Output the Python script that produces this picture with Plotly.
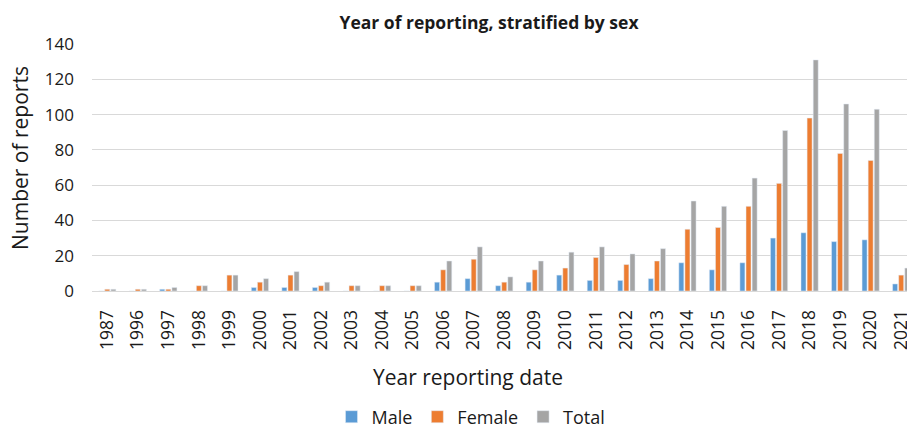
import plotly.graph_objects as go

years = ["1987", "1996", "1997", "1998", "1999", "2000", "2001", "2002", "2003",
         "2004", "2005", "2006", "2007", "2008", "2009", "2010", "2011", "2012",
         "2013", "2014", "2015", "2016", "2017", "2018", "2019", "2020", "2021"]
male = [0, 0, 1, 0, 0, 2, 2, 2, 0, 0, 0, 5, 7, 3, 5, 9, 6, 6, 7, 16, 12, 16, 30, 33, 28, 29, 4]
female = [1, 1, 1, 3, 9, 5, 9, 3, 3, 3, 3, 12, 18, 5, 12, 13, 19, 15, 17, 35, 36, 48, 61, 98, 78, 74, 9]
total = [1, 1, 2, 3, 9, 7, 11, 5, 3, 3, 3, 17, 25, 8, 17, 22, 25, 21, 24, 51, 48, 64, 91, 131, 106, 103, 13]
y_ticks = [0, 20, 40, 60, 80, 100, 120, 140]

FONT = "Open Sans"
TXT = "#1a1a1a"

fig = go.Figure()
fig.add_trace(go.Bar(name="Male", x=years, y=male, marker_color="#5B9BD5"))
fig.add_trace(go.Bar(name="Female", x=years, y=female, marker_color="#ED7D31"))
fig.add_trace(go.Bar(name="Total", x=years, y=total, marker_color="#A5A5A5"))

L, R, T, B = 92, 0, 44, 139
W, H = 907, 430
pw = W - L - R
ph = H - T - B

def px_x(x):
    return (x - L) / pw

def px_y(y):
    return (H - B - y) / ph

fig.update_layout(
    width=W, height=H,
    margin=dict(l=L, r=R, t=T, b=B, autoexpand=False),
    paper_bgcolor="white", plot_bgcolor="white",
    barmode="group", bargap=0.4, bargroupgap=0.18,
    font=dict(family=FONT, color=TXT),
    title=dict(text="<b>Year of reporting, stratified by sex</b>",
               font=dict(family=FONT, size=17.5, color=TXT),
               x=px_x(489), xref="paper", xanchor="center",
               y=1 - 23 / H, yref="container", yanchor="middle"),
    xaxis=dict(type="category", range=[-0.5, 26.19], tickangle=-90,
               tickfont=dict(size=17.5, color=TXT), showgrid=False,
               showline=True, linecolor="#d9d9d9", linewidth=1,
               ticks="", ticklabelstandoff=11, automargin=False),
    yaxis=dict(range=[0, 140], tickvals=y_ticks, showgrid=True,
               gridcolor="#d9d9d9", gridwidth=1, zeroline=False,
               tickfont=dict(size=17, color=TXT), ticks="",
               ticklabelstandoff=17, automargin=False),
    legend=dict(orientation="h", x=px_x(471), xanchor="center",
                y=1 - 417 / H, yref="container", yanchor="middle",
                font=dict(size=18, color=TXT), itemwidth=30,
                traceorder="normal"),
    annotations=[
        dict(text="Year reporting date", xref="paper", yref="paper",
             x=px_x(468), y=px_y(377), xanchor="center", yanchor="middle",
             showarrow=False, font=dict(size=21, color=TXT)),
        dict(text="Number of reports", xref="paper", yref="paper",
             x=px_x(20), y=px_y(158), xanchor="center", yanchor="middle",
             textangle=-90, showarrow=False, font=dict(size=21, color=TXT)),
    ],
)

fig.write_html("out.html")
